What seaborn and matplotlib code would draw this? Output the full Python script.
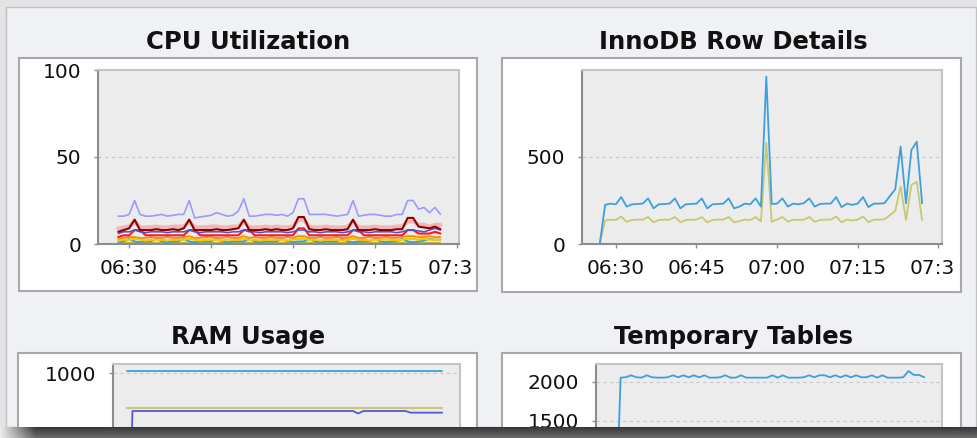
import matplotlib
matplotlib.use("Agg")
import matplotlib.pyplot as plt
from matplotlib.patches import Rectangle
from matplotlib.transforms import Bbox, TransformedBbox
import numpy as np
import seaborn as sns

W, H = 978, 438

tick_pos = [30, 45, 60, 75, 90]
tick_labels = ["06:30", "06:45", "07:00", "07:15", "07:30"]

# CPU utilization, one sample per minute from 06:28 to 07:27
cpu_minutes = list(range(28, 88))
cpu_violet = [16, 16, 17, 25, 17, 16, 16, 16.5, 17, 16,
              16.5, 17, 17, 25, 15, 15.5, 16, 16.5, 18, 17,
              16, 16.5, 19, 26, 16, 16, 16.5, 17, 17, 16.5,
              17, 16, 18, 26, 26, 17, 17, 17, 17, 16.5,
              16, 16.5, 17, 25, 16, 16.5, 17, 17, 16.5, 16,
              16, 17, 17, 25, 25, 20, 21, 18, 21, 17]
cpu_darkred = [7, 8, 9, 14, 8, 8, 8, 8.5, 8, 8,
               8.5, 8, 9, 14, 8, 8, 8, 8, 8.5, 8,
               8, 8.5, 9, 14, 8, 8, 8, 8.5, 8, 8.5,
               8, 8, 9, 15.5, 15.5, 8.5, 8, 8, 8.5, 8,
               8, 8, 8.5, 14, 8, 8, 8, 8.5, 8, 8,
               8, 8.5, 8.5, 15, 15, 10, 9.5, 9, 10, 8.5]
cpu_pink = [9, 9.5, 10, 13, 9.5, 9.5, 9.5, 10, 9.5, 9.5,
            10, 10, 10, 13, 9.5, 9.5, 9.5, 10, 10, 9.5,
            9.5, 10, 10, 13, 9.5, 9.5, 9.5, 10, 9.5, 10,
            9.5, 9.5, 10, 14, 14, 10, 9.5, 9.5, 10, 9.5,
            9.5, 9.5, 10, 13, 9.5, 9.5, 9.5, 10, 9.5, 9.5,
            9.5, 10, 10, 13, 13, 11, 11, 10, 11, 11]
cpu_purple = [6, 7, 7, 8, 7, 6.5, 7, 7, 7, 6.5,
              7, 7, 7, 8, 7, 6.5, 7, 7, 7, 7,
              6.5, 7, 7, 8, 7, 7, 6.5, 7, 7, 7,
              7, 6.5, 7, 8, 8, 7, 7, 6.5, 7, 7,
              7, 6.5, 7, 8, 7, 7, 6.5, 7, 7, 7,
              7, 6.5, 7, 8, 8, 7.5, 7, 8, 9, 8]
cpu_red = [4, 5, 5, 8, 8, 5, 5, 5, 5, 5,
           5, 5, 5, 8, 8, 5, 5, 5, 5, 5,
           5, 5, 5, 8, 8, 5, 5, 5, 5, 5,
           5, 5, 5, 9, 9, 5, 5, 5, 5, 5,
           5, 5, 5, 8, 8, 5, 5, 5, 5, 5,
           5, 5, 5, 8, 8, 6, 6, 6, 7, 6]
cpu_orange = [3, 3.5, 4, 4, 3.5, 3.5, 4, 3.5, 3.5, 4,
              3.5, 3.5, 4, 4.5, 3.5, 3.5, 4, 4, 3.5, 3.5,
              4, 3.5, 3.5, 4.5, 3.5, 4, 3.5, 3.5, 4, 3.5,
              3.5, 4, 3.5, 4.5, 4.5, 3.5, 3.5, 4, 3.5, 3.5,
              4, 3.5, 3.5, 4.5, 3.5, 3.5, 4, 3.5, 3.5, 4,
              3.5, 3.5, 4, 4.5, 4.5, 4, 4, 4.5, 4, 4]
cpu_yellow = [2, 2.5, 2.5, 3, 2.5, 2, 2.5, 2.5, 2.5, 2,
              2.5, 2.5, 2.5, 3, 2.5, 2, 2.5, 2.5, 2.5, 2,
              2.5, 2.5, 2.5, 3, 2.5, 2.5, 2, 2.5, 2.5, 2.5,
              2.5, 2, 2.5, 3, 3, 2.5, 2.5, 2, 2.5, 2.5,
              2.5, 2, 2.5, 3, 2.5, 2.5, 2, 2.5, 2.5, 2.5,
              2.5, 2, 2.5, 3, 3, 2.5, 3, 2.5, 2.5, 2.5]
cpu_blue = [1, 1.5, 3, 1.5, 1, 1.5, 1.5, 3, 1.5, 1,
            1.5, 1.5, 3, 1.5, 1, 1.5, 1.5, 1.5, 3, 1.5,
            1, 1.5, 1.5, 1.5, 3, 1.5, 1, 1.5, 1.5, 1.5,
            3, 1.5, 1, 1.5, 1.5, 3, 1.5, 1, 1.5, 1.5,
            1.5, 3, 1.5, 1, 1.5, 1.5, 1.5, 3, 1.5, 1,
            1.5, 1.5, 3, 1.5, 1, 1.5, 2, 3, 2.5, 2.5]
cpu_olive = [0.5, 0.8, 0.8, 1, 0.8, 0.8, 0.8, 0.8, 0.8, 0.8,
             0.8, 0.8, 0.8, 1, 0.8, 0.8, 0.8, 0.8, 0.8, 0.8,
             0.8, 0.8, 0.8, 1, 0.8, 0.8, 0.8, 0.8, 0.8, 0.8,
             0.8, 0.8, 0.8, 1, 1, 0.8, 0.8, 0.8, 0.8, 0.8,
             0.8, 0.8, 0.8, 1, 0.8, 0.8, 0.8, 0.8, 0.8, 0.8,
             0.8, 0.8, 0.8, 1, 1, 0.8, 0.8, 0.8, 0.8, 0.8]

# InnoDB rows, 06:27 to 07:27
inno_minutes = list(range(27, 88))
inno_blue = [0, 225, 232, 228, 270, 215, 228, 230, 232, 262,
             205, 228, 230, 232, 262, 205, 228, 230, 232, 262,
             205, 228, 230, 232, 262, 205, 215, 232, 228, 262,
             215, 962, 230, 232, 262, 215, 232, 228, 235, 262,
             215, 230, 232, 232, 270, 212, 232, 225, 232, 270,
             212, 232, 232, 235, 275, 315, 560, 234, 540, 588,
             234]
inno_yellow = [0, 135, 140, 138, 158, 128, 138, 140, 140, 155,
               125, 138, 140, 140, 155, 125, 138, 140, 140, 155,
               125, 138, 140, 140, 155, 125, 132, 140, 138, 155,
               130, 579, 128, 140, 155, 128, 140, 138, 140, 155,
               128, 138, 140, 140, 158, 125, 140, 135, 140, 158,
               125, 140, 140, 142, 165, 190, 330, 138, 339, 358,
               138]

# RAM usage
ram_minutes = [27, 87]
ram_blue = [1010, 1010]
ram_yellow = [790, 790]
ram_purple_minutes = [27.5, 28, 70, 71, 72, 80, 81, 87]
ram_purple = [0, 770, 770, 755, 770, 770, 760, 760]

# Temporary tables
temp_minutes = list(range(28, 88))
temp_blue = [0, 2055, 2060, 2085, 2060, 2055, 2085, 2060, 2055, 2055,
             2060, 2085, 2060, 2085, 2060, 2085, 2060, 2085, 2055, 2055,
             2060, 2085, 2055, 2055, 2085, 2055, 2055, 2055, 2055, 2055,
             2085, 2055, 2085, 2055, 2055, 2055, 2060, 2085, 2060, 2085,
             2085, 2060, 2085, 2060, 2085, 2060, 2085, 2060, 2060, 2085,
             2055, 2085, 2055, 2055, 2055, 2060, 2140, 2090, 2090, 2060]


def fx(px):
    return px / W


def fy(py):
    return 1 - py / H


def frect(x0, y0, x1, y1, **kw):
    return Rectangle((fx(x0), fy(y1)), fx(x1) - fx(x0), fy(y0) - fy(y1),
                     transform=fig.transFigure, **kw)


sns.set_theme(style="white")
plt.rcParams["font.family"] = ["DejaVu Sans"]

fig = plt.figure(figsize=(W / 100, H / 100), dpi=100)
fig.patch.set_facecolor("#e4e4e4")
fig.add_artist(frect(6.5, 7, 976, 427, facecolor="#f0f1f5",
                     edgecolor="#c0c0c0", linewidth=1, zorder=-10))


def make_panel(box, area, title, title_xy, clip_right):
    x0, y0, x1, y1 = box
    fig.add_artist(frect(x0, y0, x1, y1, facecolor="white", edgecolor="none", zorder=-5))
    fig.add_artist(frect(x0, y0, x1, y1, fill=False, edgecolor="#a8a8a8",
                         linewidth=1.5, zorder=5))
    fig.text(fx(title_xy[0]), fy(title_xy[1]), title, ha="center", va="center",
             fontsize=17.5, fontweight="bold", color="#111111")
    ax = fig.add_axes([fx(area[0]), fy(area[3]),
                       fx(area[2]) - fx(area[0]), fy(area[1]) - fy(area[3])])
    clip = TransformedBbox(Bbox([[fx(x0), fy(y1)], [fx(clip_right), fy(y0)]]),
                           fig.transFigure)
    return ax, clip


def style_axes(ax, xlim, ylim, yticks, clip, show_x=True):
    ax.set_facecolor("#ececec")
    ax.set_xlim(*xlim)
    ax.set_ylim(*ylim)
    ax.set_xticks(tick_pos)
    ax.set_xticklabels(tick_labels)
    ax.set_yticks(yticks)
    ax.set_yticklabels([str(v) for v in yticks])
    ax.set_xlabel("")
    ax.set_ylabel("")
    ax.tick_params(axis="both", bottom=True, left=True, direction="out", length=3,
                   width=1, color="#8c8c8c", labelsize=14.5, labelcolor="#111111")
    ax.tick_params(axis="x", pad=7.5, labelbottom=show_x)
    ax.tick_params(axis="y", pad=9)
    for side in ["left", "bottom"]:
        ax.spines[side].set_color("#8c8c8c")
        ax.spines[side].set_linewidth(1.5)
    for side in ["top", "right"]:
        ax.spines[side].set_color("#c4c4c4")
        ax.spines[side].set_linewidth(1.5)
    ax.yaxis.grid(True, color="#c8c8c8", linestyle=(0, (3, 3)), linewidth=0.8)
    ax.xaxis.grid(False)
    for tick in ax.xaxis.get_major_ticks():
        tick.label1.set_clip_on(True)
        tick.label1.set_clip_box(clip)


# CPU Utilization
ax, clip = make_panel((19, 58, 477, 291), (98, 70, 459, 244), "CPU Utilization", (248, 42), 472.5)
cpu_series = [
    (cpu_olive, "#b4b450", 1.1, 1.0),
    (cpu_blue, "#30a0d8", 1.3, 1.0),
    (cpu_yellow, "#f5c800", 1.6, 1.0),
    (cpu_orange, "#ff8c00", 1.3, 1.0),
    (cpu_red, "#ff1a1a", 1.5, 1.0),
    (cpu_purple, "#5050c8", 1.1, 1.0),
    (cpu_pink, "#ff8080", 3.0, 0.5),
    (cpu_darkred, "#8b0000", 1.5, 1.0),
    (cpu_violet, "#9a9aff", 1.2, 1.0),
]
for vals, col, lw, a in cpu_series:
    sns.lineplot(x=cpu_minutes, y=vals, color=col, linewidth=lw, alpha=a, ax=ax)
style_axes(ax, (24.3, 90.4), (0, 100), [0, 50, 100], clip)

# InnoDB Row Details
ax, clip = make_panel((502, 58, 961, 292), (582, 70, 942, 244), "InnoDB Row Details", (733, 42), 955.5)
sns.lineplot(x=inno_minutes, y=inno_yellow, color="#c8c86e", linewidth=1.3, ax=ax)
sns.lineplot(x=inno_minutes, y=inno_blue, color="#3d9fe0", linewidth=1.3, ax=ax)
style_axes(ax, (23.7, 90.7), (0, 1000), [0, 500], clip)

# RAM Usage (lower part of the panel is below the screenshot edge)
ax, clip = make_panel((18, 353, 477, 600), (113, 364, 460, 538), "RAM Usage", (248, 337), 474)
sns.lineplot(x=ram_minutes, y=ram_blue, color="#3d9fe0", linewidth=1.3, ax=ax)
sns.lineplot(x=ram_minutes, y=ram_yellow, color="#c8c86e", linewidth=1.6, ax=ax)
sns.lineplot(x=ram_purple_minutes, y=ram_purple, color="#5656d8", linewidth=1.3, ax=ax)
style_axes(ax, (24.3, 90.4), (0, 1055), [1000], clip, show_x=False)

# Temporary Tables
ax, clip = make_panel((502, 353, 961, 600), (596, 364, 942, 538), "Temporary Tables", (734, 337), 957)
sns.lineplot(x=temp_minutes, y=temp_blue, color="#3d9fe0", linewidth=1.3, ax=ax)
style_axes(ax, (24.3, 90.4), (0, 2230), [1500, 2000], clip, show_x=False)

# window drop shadow along the bottom edge
sh = fig.add_axes([0, 0, 1, fy(427)], zorder=20)
rows = np.linspace(0.2, 0.42, 11)[:, None]
fade = np.clip(np.arange(W) / 35.0, 0, 1)[None, :]
shade = 0.93 * (1 - fade) + rows * fade
sh.imshow(np.dstack([shade, shade, shade]), aspect="auto", interpolation="bilinear",
          extent=(0, 1, 0, 1), vmin=0, vmax=1)
sh.set_axis_off()

fig.savefig("out.png", dpi=100, facecolor=fig.get_facecolor())
